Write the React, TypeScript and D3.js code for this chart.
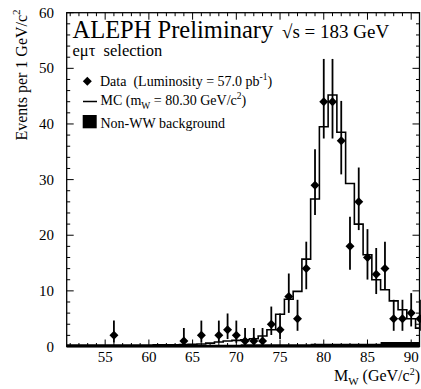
import React from "react";
import * as d3 from "d3";

// Reconstructed mass distribution, 1 GeV/c^2 bins
const mcBins = [
  51, 52, 53, 54, 55, 56, 57, 58, 59, 60, 61, 62, 63, 64, 65, 66, 67, 68, 69, 70, 71,
  72, 73, 74, 75, 76, 77, 78, 79, 80, 81, 82, 83, 84, 85, 86, 87, 88, 89, 90, 91,
];
const mcValues = [
  0.25, 0.25, 0.25, 0.25, 0.25, 0.25, 0.25, 0.25, 0.25, 0.25, 0.3, 0.3, 0.3, 0.35, 0.4,
  0.45, 0.6, 0.8, 1.0, 1.1, 1.2, 1.4, 1.9, 3.0, 5.8, 8.5, 9.9, 15.7, 26.5, 39.5, 45.2,
  38.5, 29.3, 22, 16.5, 12, 10.2, 8.2, 6.6, 5, 3.3,
];
const bgValues = [
  0.2, 0.2, 0.2, 0.2, 0.2, 0.2, 0.2, 0.2, 0.2, 0.2, 0.3, 0.3, 0.3, 0.3, 0.3, 0.3, 0.3,
  0.3, 0.3, 0.3, 0.4, 0.4, 0.4, 0.4, 0.4, 0.4, 0.4, 0.4, 0.5, 0.5, 0.5, 0.5, 0.5, 0.5,
  0.5, 0.5, 0.8, 0.8, 0.8, 0.8, 0.8,
];

const dataMass = [
  56, 64, 66, 68, 69, 70, 71, 72, 73, 74, 75, 76, 77, 78, 79, 80, 81, 82, 83, 84, 85, 86,
  87, 88, 89, 90, 91,
];
const dataCounts = [
  2, 1, 2, 2, 3, 2, 1, 1, 1, 4, 3, 9, 5, 14, 29, 44, 44, 37, 18, 26, 16, 13, 14, 5, 5, 6, 5,
];

const xTickLabels = [55, 60, 65, 70, 75, 80, 85, 90];
const yTickLabels = [0, 10, 20, 30, 40, 50, 60];

const W = 421;
const H = 389;
const left = 66.7;
const right = 419.5;
const top = 12.7;
const bottom = 346.5;

const FONT = "'Liberation Serif', 'DejaVu Serif', serif";

const x = d3.scaleLinear().domain([50.6, 90.95]).range([left, right]);
const y = d3.scaleLinear().domain([0, 60]).range([bottom, top]);

// Poisson-style asymmetric error interval
const errUp = (n: number) => n + Math.sqrt(n + 0.75) + 1;
const errLow = (n: number) => n - Math.sqrt(Math.max(n - 0.25, 0));

type StepPt = { e: number; v: number };
const stepPoints = (vals: number[]): StepPt[] => {
  const pts = mcBins.map((c, i) => ({ e: c - 0.5, v: vals[i] }));
  pts.push({ e: mcBins[mcBins.length - 1] + 0.5, v: vals[vals.length - 1] });
  return pts;
};

const mcLine = d3
  .line<StepPt>()
  .x((d) => x(d.e))
  .y((d) => y(d.v))
  .curve(d3.curveStepAfter);

const bgArea = d3
  .area<StepPt>()
  .x((d) => x(d.e))
  .y0(y(0))
  .y1((d) => y(d.v))
  .curve(d3.curveStepAfter);

const diamond = (cx: number, cy: number, r: number) =>
  `M${cx},${cy - r}L${cx + r},${cy}L${cx},${cy + r}L${cx - r},${cy}Z`;

export default function App() {
  const xMinor = d3.range(51, 91);
  const yMinor = d3.range(0, 61, 2);
  const mcPts = stepPoints(mcValues);
  const bgPts = stepPoints(bgValues);

  return (
    <svg
      width={W}
      height={H}
      style={{ position: "absolute", left: 0, top: 0, background: "#fff", fontFamily: FONT }}
    >
      <defs>
        <clipPath id="plotClip">
          <rect x={left} y={top} width={right - left} height={bottom - top} />
        </clipPath>
      </defs>

      {/* histograms */}
      <g clipPath="url(#plotClip)">
        <path d={bgArea(bgPts) ?? ""} fill="#000" />
        <path d={mcLine(mcPts) ?? ""} fill="none" stroke="#000" strokeWidth={1.6} />
      </g>

      {/* data points with error bars */}
      <g>
        {dataMass.map((m, i) => {
          const n = dataCounts[i];
          const cx = x(m);
          return (
            <g key={m}>
              <line
                x1={cx}
                x2={cx}
                y1={y(errLow(n))}
                y2={y(errUp(n))}
                stroke="#000"
                strokeWidth={1.8}
              />
              <path d={diamond(cx, y(n), 4.5)} fill="#000" />
            </g>
          );
        })}
      </g>

      {/* frame */}
      <rect
        x={left}
        y={top}
        width={right - left}
        height={bottom - top}
        fill="none"
        stroke="#000"
        strokeWidth={1.3}
      />
      <line x1={left} x2={right} y1={bottom} y2={bottom} stroke="#000" strokeWidth={2} />

      {/* x ticks (bottom and top) */}
      {xMinor.map((v) => {
        const major = v % 5 === 0;
        const len = major ? 7 : 3.5;
        return (
          <g key={`xt${v}`} stroke="#000" strokeWidth={1}>
            <line x1={x(v)} x2={x(v)} y1={bottom} y2={bottom - len} />
            <line x1={x(v)} x2={x(v)} y1={top} y2={top + len} />
          </g>
        );
      })}
      {/* y ticks (left and right) */}
      {yMinor.map((v) => {
        const major = v % 10 === 0;
        const len = major ? 7 : 3.5;
        return (
          <g key={`yt${v}`} stroke="#000" strokeWidth={1}>
            <line x1={left} x2={left + len} y1={y(v)} y2={y(v)} />
            <line x1={right} x2={right - len} y1={y(v)} y2={y(v)} />
          </g>
        );
      })}

      {/* tick labels */}
      {xTickLabels.map((v) => (
        <text key={`xl${v}`} x={x(v)} y={362} fontSize={15} textAnchor="middle" fill="#000">
          {v}
        </text>
      ))}
      {yTickLabels.map((v) => (
        <text
          key={`yl${v}`}
          x={54}
          y={y(v) + 5}
          fontSize={15}
          textAnchor="end"
          fill="#000"
        >
          {v}
        </text>
      ))}

      {/* axis titles */}
      <text x={420} y={381} fontSize={16} textAnchor="end" fill="#000">
        M<tspan fontSize={11} dy={4}>W</tspan>
        <tspan dy={-4}> (GeV/c</tspan>
        <tspan fontSize={10} dy={-6}>2</tspan>
        <tspan dy={6}>)</tspan>
      </text>
      <text
        transform="translate(27,75) rotate(-90)"
        fontSize={16}
        textAnchor="middle"
        fill="#000"
      >
        Events per 1 GeV/c<tspan fontSize={11} dy={-7}>2</tspan>
      </text>

      {/* header */}
      <text x={72.5} y={37.5} fontSize={24.5} fill="#000">
        ALEPH Preliminary
      </text>
      <text x={282} y={37.5} fontSize={19} fill="#000">
        √s = 183 GeV
      </text>
      <text x={72.5} y={56} fontSize={16.5} fill="#000" xmlSpace="preserve">
        eμτ  selection
      </text>

      {/* legend */}
      <path d={diamond(87.3, 81.3, 4.5)} fill="#000" />
      <text x={100} y={86} fontSize={14} fill="#000" xmlSpace="preserve">
        Data  (Luminosity = 57.0 pb<tspan fontSize={9.5} dy={-6}>-1</tspan>
        <tspan dy={6}>)</tspan>
      </text>
      <line x1={83} x2={97} y1={101.5} y2={101.5} stroke="#000" strokeWidth={1.5} />
      <text x={100.5} y={105} fontSize={14} fill="#000">
        MC (m<tspan fontSize={9.5} dy={3.5}>W</tspan>
        <tspan dy={-3.5}> = 80.30 GeV/c</tspan>
        <tspan fontSize={9.5} dy={-6}>2</tspan>
        <tspan dy={6}>)</tspan>
      </text>
      <rect x={82.7} y={115} width={14} height={13.3} fill="#000" />
      <text x={100.5} y={128} fontSize={14} fill="#000">
        Non-WW background
      </text>
    </svg>
  );
}
